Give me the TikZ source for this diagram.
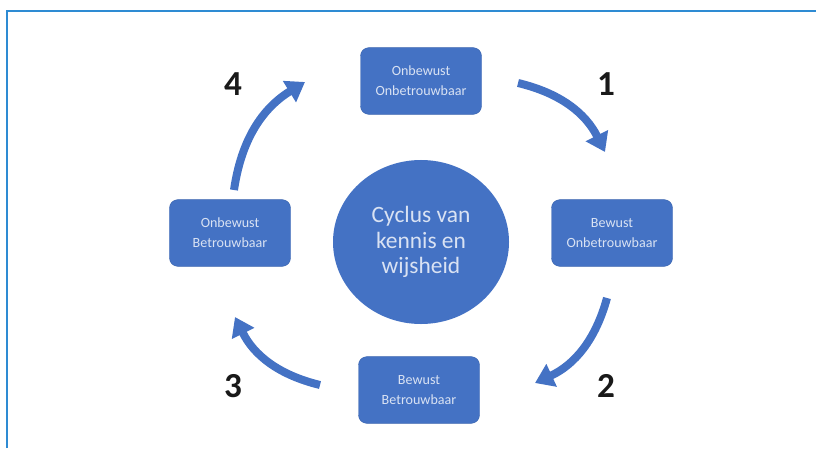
\documentclass[tikz,border=0pt]{standalone}
\usepackage{fontspec}
\setmainfont{Carlito}
\usetikzlibrary{arrows.meta,shapes.geometric}
\definecolor{officeblue}{HTML}{4472C4}
\definecolor{boxtext}{HTML}{D9E2F3}
\definecolor{frameblue}{HTML}{2E8BD3}

\begin{document}
\begin{tikzpicture}[x=0.03cm, y=-0.03cm,
    stage/.style={draw=officeblue!90!black, fill=officeblue, rounded corners=0.25cm,
      minimum width=3.63cm, minimum height=2cm, align=center, text=boxtext,
      font=\fontsize{12}{17}\selectfont, inner sep=0pt},
    hub/.style={ellipse, fill=officeblue, minimum width=5.28cm, minimum height=4.92cm,
      align=center, text=boxtext, font=\fontsize{20}{22}\selectfont, inner sep=0pt},
    stepnum/.style={font=\fontsize{30}{30}\selectfont\bfseries, text=black!90},
    flow/.style={officeblue, line width=0.24cm,
      -{Triangle[width=0.72cm, length=0.55cm]}}]

   % Page and frame
   \useasboundingbox (0,0) rectangle (816,448);
   \draw[frameblue, line width=0.06cm] (7,448) |- (816,11);

   % Centre
   \node[hub] (hub) at (421,242) {Cyclus van\\kennis en\\wijsheid};

   % The four stages
   \node[stage] (oo) at (421,81) {Onbewust\\Onbetrouwbaar};
   \node[stage] (bo) at (612,233) {Bewust\\Onbetrouwbaar};
   \node[stage] (bb) at (419,390) {Bewust\\Betrouwbaar};
   \node[stage] (ob) at (230,233) {Onbewust\\Betrouwbaar};

   % Numbers
   \node[stepnum] (n1) at (606,84) {1};
   \node[stepnum] (n2) at (606,386) {2};
   \node[stepnum] (n3) at (233,386) {3};
   \node[stepnum] (n4) at (233,84) {4};

   % Arrow ends
   \coordinate (a1) at (518,83);  \coordinate (b1) at (605,152);
   \coordinate (a2) at (607,298); \coordinate (b2) at (535,383);
   \coordinate (a3) at (320,385); \coordinate (b3) at (235,317);
   \coordinate (a4) at (234,190); \coordinate (b4) at (305,82);

   \draw[flow] (a1) to[bend left=25] (b1);
   \draw[flow] (a2) to[bend left=25] (b2);
   \draw[flow] (a3) to[bend left=25] (b3);
   \draw[flow] (a4) to[bend left=25] (b4);

\end{tikzpicture}
\end{document}
